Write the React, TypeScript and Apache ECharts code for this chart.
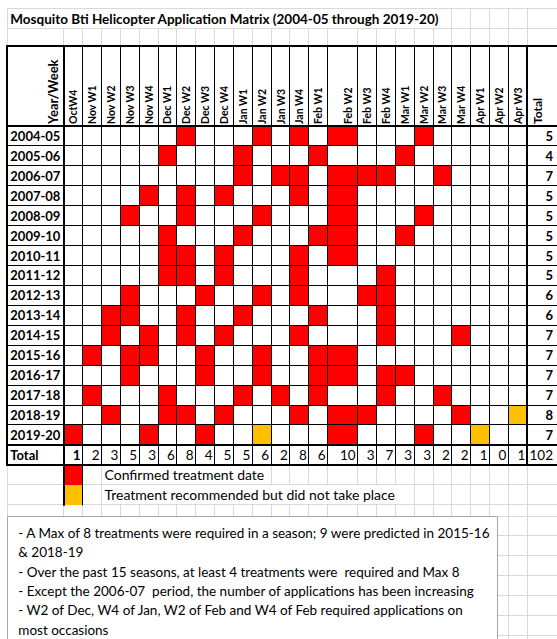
import React, { useEffect, useRef } from "react";
import * as echarts from "echarts";

const TITLE = "Mosquito Bti Helicopter Application Matrix (2004-05 through 2019-20)";
const WEEKS = [
  "OctW4", "Nov W1", "Nov W2", "Nov W3", "Nov W4", "Dec W1", "Dec W2", "Dec W3", "Dec W4",
  "Jan W1", "Jan W2", "Jan W3", "Jan W4", "Feb W1", "Feb W2", "Feb W3", "Feb W4",
  "Mar W1", "Mar W2", "Mar W3", "Mar W4", "Apr W1", "Apr W2", "Apr W3",
];
const SEASONS = [
  "2004-05", "2005-06", "2006-07", "2007-08", "2008-09", "2009-10", "2010-11", "2011-12",
  "2012-13", "2013-14", "2014-15", "2015-16", "2016-17", "2017-18", "2018-19", "2019-20",
];
// week indices with a confirmed treatment, one list per season
const CONFIRMED = [
  [6, 10, 12, 14, 18],
  [5, 9, 13, 17],
  [9, 11, 12, 14, 15, 16, 19],
  [4, 6, 8, 12, 14],
  [3, 6, 10, 14, 18],
  [5, 9, 13, 14, 17],
  [5, 6, 8, 12, 14],
  [5, 6, 8, 12, 16],
  [3, 7, 10, 12, 15, 16],
  [2, 3, 6, 9, 13, 16],
  [2, 4, 6, 8, 12, 16, 20],
  [1, 3, 4, 7, 10, 13, 14],
  [3, 7, 10, 13, 14, 16, 17],
  [1, 5, 9, 11, 13, 16, 19],
  [2, 5, 6, 8, 12, 14, 15, 20],
  [0, 4, 7, 14, 18],
];
// [season index, week index] recommended but not done
const RECOMMENDED = [[14, 23], [15, 10], [15, 21]];
const SEASON_TOTALS = [5, 4, 7, 5, 5, 5, 5, 5, 6, 6, 7, 7, 7, 7, 8, 7];
const WEEK_TOTALS = [1, 2, 3, 5, 3, 6, 8, 4, 5, 5, 6, 2, 8, 6, 10, 3, 7, 3, 3, 2, 2, 1, 0, 1];
const GRAND_TOTAL = 102;
const LEGEND = ["Confirmed treatment date", "Treatment recommended but did not take place"];
const NOTES = [
  "- A Max of 8 treatments were required in a season; 9 were predicted in 2015-16",
  "& 2018-19",
  "- Over the past 15 seasons, at least 4 treatments were  required and Max 8",
  "- Except the 2006-07  period, the number of applications has been increasing",
  "- W2 of Dec, W4 of Jan, W2 of Feb and W4 of Feb required applications on",
  "most occasions",
];

// ---- layout (sheet units: 1 x-unit = one week column, 1 y-unit = one row) ----
const FONT = "Lato, 'Open Sans', sans-serif";
const COL_PX = 19;
const ROW_PX = 19.93;
const GRID_LEFT = 7.3;
const GRID_TOP = 46.3;
const HEADER_ROWS = 4;
const colUnits = [3, ...WEEKS.map((w) => (w === "Feb W2" ? 1.595 : 1)), 1.58];
const B: number[] = [0];
colUnits.forEach((u) => B.push(B[B.length - 1] + u));
const X_MAX = B[B.length - 1];
const TOTAL_ROW = SEASONS.length; // row index of "Total"
const Y_MAX = HEADER_ROWS + SEASONS.length + 1 + LEGEND.length;
const yRow = (r: number) => HEADER_ROWS + r;
const pxY = (px: number) => (px - GRID_TOP) / ROW_PX;
const pxX = (px: number) => (px - GRID_LEFT) / COL_PX;
const SCREEN_BOTTOM = pxY(660);

// ---- cells ----
const CELLS: number[][] = [];
CONFIRMED.forEach((weeks, s) => weeks.forEach((w) => CELLS.push([w, s, 0])));
RECOMMENDED.forEach(([s, w]) => CELLS.push([w, s, 1]));
CELLS.push([0, TOTAL_ROW + 1, 0]);
CELLS.push([0, TOTAL_ROW + 2, 1]);
const CELL_COLORS = ["#FF0000", "#FFC000"];

// ---- lines: [x1, y1, x2, y2, kind] kind 0 gray, 1 black, 2 black thick ----
const SEGS: number[][] = [];
const tableBottom = yRow(TOTAL_ROW + 1);
const titleTop = pxY(8);
const row2Top = pxY(28);
SEGS.push([0, titleTop, X_MAX, titleTop, 0]);
SEGS.push([0, row2Top, X_MAX, row2Top, 0]);
B.forEach((b, i) => {
  const top = b >= pxX(450) || i === 0 ? titleTop : row2Top;
  SEGS.push([b, top, b, 0, 0]);
});
const legendEnds = [pxX(270), pxX(400)];
for (let k = 0; k < LEGEND.length; k++) {
  const y0 = yRow(TOTAL_ROW + 1 + k);
  const y1 = y0 + 1;
  SEGS.push([0, y1, X_MAX, y1, 0]);
  B.forEach((b, i) => {
    if (i === 1 || i === 2) return;
    if (i > 3 && b < legendEnds[k]) return;
    SEGS.push([b, y0, b, y1, 0]);
  });
}
const belowTop = yRow(TOTAL_ROW + 3);
const sheetRows = [pxY(516)];
while (sheetRows[sheetRows.length - 1] < SCREEN_BOTTOM) sheetRows.push(sheetRows[sheetRows.length - 1] + 1);
sheetRows.forEach((y) => SEGS.push([0, y, X_MAX, y, 0]));
B.forEach((b) => SEGS.push([b, belowTop, b, SCREEN_BOTTOM, 0]));
const GRAY_COUNT = SEGS.length;
for (let r = 1; r < SEASONS.length; r++) SEGS.push([0, yRow(r), X_MAX, yRow(r), 1]);
for (let i = 2; i < B.length - 1; i++) {
  if (i === B.length - 2) continue;
  SEGS.push([B[i], 0, B[i], tableBottom, 1]);
}
[0, HEADER_ROWS, yRow(TOTAL_ROW), tableBottom].forEach((y) => SEGS.push([0, y, X_MAX, y, 2]));
[0, 1, B.length - 2].forEach((i) => SEGS.push([B[i], 0, B[i], tableBottom, 2]));
SEGS.push([B[1], tableBottom, B[1], tableBottom + 2, 2]);
SEGS.push([B[2], tableBottom, B[2], tableBottom + 2, 1]);
const BOX = [pxX(8), pxY(516), pxX(502), SCREEN_BOTTOM];

// ---- texts ----
type T = { x: number; y: number; dx?: number; dy?: number; text: string; size: number; bold?: boolean; align?: string; rot?: boolean };
const TEXTS: T[] = [];
TEXTS.push({ x: 0, dx: 3, y: pxY(18.5), text: TITLE, size: 13.5, bold: true });
TEXTS.push({ x: B[1], dx: -11, y: HEADER_ROWS, dy: -2, text: "Year/Week", size: 13, bold: true, rot: true });
WEEKS.forEach((w, j) => {
  const wide = colUnits[j + 1] > 1;
  const x = wide ? B[j + 2] : (B[j + 1] + B[j + 2]) / 2;
  TEXTS.push({ x, dx: wide ? -9.5 : 0, y: HEADER_ROWS, dy: -2, text: w, size: 10.5, bold: true, rot: true });
});
TEXTS.push({ x: B[B.length - 2], dx: 10, y: HEADER_ROWS, dy: -2, text: "Total", size: 12, bold: true, rot: true });
SEASONS.forEach((s, i) => {
  TEXTS.push({ x: 0, dx: 3, y: yRow(i) + 0.5, text: s, size: 13, bold: true });
  TEXTS.push({ x: X_MAX, dx: -4, y: yRow(i) + 0.5, text: String(SEASON_TOTALS[i]), size: 13, bold: true, align: "right" });
});
TEXTS.push({ x: 0, dx: 3, y: yRow(TOTAL_ROW) + 0.5, text: "Total", size: 13, bold: true });
WEEK_TOTALS.forEach((v, j) => {
  TEXTS.push({ x: B[j + 2], dx: -2, y: yRow(TOTAL_ROW) + 0.5, text: String(v), size: 13.5, bold: j === 0, align: "right" });
});
TEXTS.push({ x: X_MAX, dx: -4, y: yRow(TOTAL_ROW) + 0.5, text: String(GRAND_TOTAL), size: 13.5, align: "right" });
LEGEND.forEach((l, k) => {
  TEXTS.push({ x: B[3], dx: 3, y: yRow(TOTAL_ROW + 1 + k) + 0.5, text: l, size: 14 });
});
NOTES.forEach((n, i) => {
  TEXTS.push({ x: 0, dx: 11, y: pxY(533 + i * 19.3), text: n, size: 13.5 });
});

export default function App() {
  const ref = useRef<HTMLDivElement>(null);
  useEffect(() => {
    document.body.style.margin = "0";
    const chart = echarts.init(ref.current!, undefined, { renderer: "svg" });
    const snap = (v: number, w: number) => (w % 2 === 1 ? Math.floor(v) + 0.5 : Math.round(v));
    chart.setOption({
      animation: false,
      backgroundColor: "#ffffff",
      grid: { left: GRID_LEFT, top: GRID_TOP, width: X_MAX * COL_PX, height: Y_MAX * ROW_PX },
      xAxis: { type: "value", min: 0, max: X_MAX, show: false },
      yAxis: { type: "value", min: 0, max: Y_MAX, inverse: true, show: false },
      series: [
        {
          type: "custom",
          silent: true,
          clip: false,
          data: SEGS.slice(0, GRAY_COUNT).map((s) => [s[0], s[1]]),
          renderItem: (p: any, api: any) => {
            const s = SEGS[p.dataIndex];
            const a = api.coord([s[0], s[1]]);
            const b = api.coord([s[2], s[3]]);
            const horiz = Math.abs(a[1] - b[1]) < 0.01;
            return {
              type: "line",
              shape: horiz
                ? { x1: a[0], y1: snap(a[1], 1), x2: b[0], y2: snap(b[1], 1) }
                : { x1: snap(a[0], 1), y1: a[1], x2: snap(b[0], 1), y2: b[1] },
              style: { stroke: "#D9D9D9", lineWidth: 1 },
            };
          },
        },
        {
          type: "custom",
          silent: true,
          clip: false,
          data: [[BOX[0], BOX[1]]],
          renderItem: (p: any, api: any) => {
            const a = api.coord([BOX[0], BOX[1]]);
            const b = api.coord([BOX[2], BOX[3]]);
            return {
              type: "rect",
              shape: { x: snap(a[0], 1), y: snap(a[1], 1), width: Math.round(b[0] - a[0]), height: b[1] - a[1] },
              style: { fill: "#ffffff", stroke: "#A6A6A6", lineWidth: 1 },
            };
          },
        },
        {
          type: "custom",
          silent: true,
          clip: false,
          data: CELLS,
          renderItem: (p: any, api: any) => {
            const w = api.value(0);
            const r = api.value(1);
            const k = api.value(2);
            const a = api.coord([B[w + 1], yRow(r)]);
            const b = api.coord([B[w + 2], yRow(r) + 1]);
            const x0 = Math.round(a[0]);
            const y0 = Math.round(a[1]);
            return {
              type: "rect",
              shape: { x: x0, y: y0, width: Math.round(b[0]) - x0, height: Math.round(b[1]) - y0 },
              style: { fill: CELL_COLORS[k] },
            };
          },
        },
        {
          type: "custom",
          silent: true,
          clip: false,
          data: SEGS.slice(GRAY_COUNT).map((s) => [s[0], s[1]]),
          renderItem: (p: any, api: any) => {
            const s = SEGS[GRAY_COUNT + p.dataIndex];
            const a = api.coord([s[0], s[1]]);
            const b = api.coord([s[2], s[3]]);
            const lw = s[4] === 2 ? 2 : 1;
            const horiz = Math.abs(a[1] - b[1]) < 0.01;
            const ext = lw / 2;
            return {
              type: "line",
              shape: horiz
                ? { x1: a[0] - ext, y1: snap(a[1], lw), x2: b[0] + ext, y2: snap(b[1], lw) }
                : { x1: snap(a[0], lw), y1: a[1] - ext, x2: snap(b[0], lw), y2: b[1] + ext },
              style: { stroke: "#000000", lineWidth: lw },
            };
          },
        },
        {
          type: "custom",
          silent: true,
          clip: false,
          data: TEXTS.map((t) => [t.x, t.y]),
          renderItem: (p: any, api: any) => {
            const t = TEXTS[p.dataIndex];
            const a = api.coord([t.x, t.y]);
            return {
              type: "text",
              x: a[0] + (t.dx || 0),
              y: a[1] + (t.dy || 0),
              rotation: t.rot ? Math.PI / 2 : 0,
              style: {
                text: t.text,
                fill: "#000000",
                fontFamily: FONT,
                fontSize: t.size,
                fontWeight: t.bold ? "bold" : "normal",
                align: t.align || "left",
                verticalAlign: "middle",
              },
            };
          },
        },
      ],
    });
    return () => chart.dispose();
  }, []);
  return <div ref={ref} style={{ width: 557, height: 639 }} />;
}
